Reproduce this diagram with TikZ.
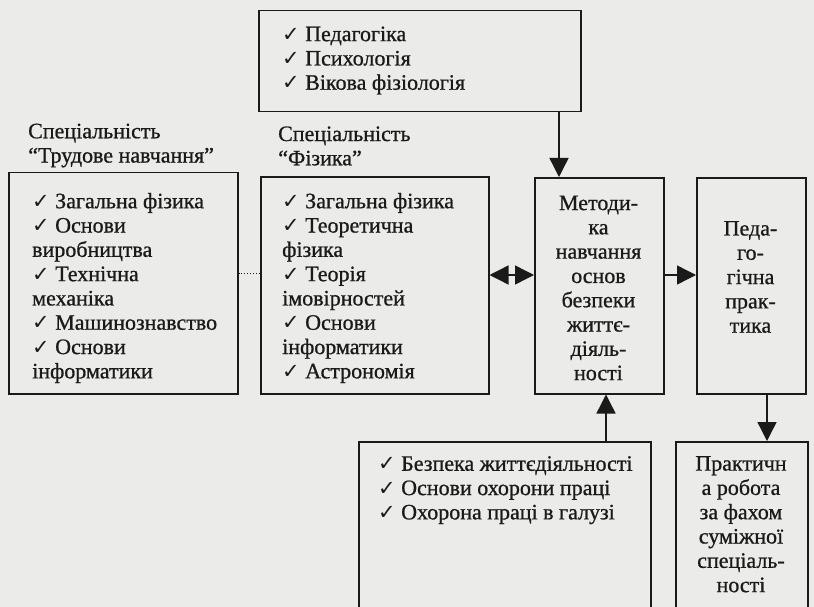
\documentclass[tikz,border=0pt]{standalone}
\usepackage{fontspec}
\setmainfont{Liberation Serif}[FakeBold=0.8]
\newfontfamily\symfont[Scale=0.95]{DejaVu Sans}
\newcommand\chk{{\symfont ✓}}
\usetikzlibrary{arrows.meta}
\definecolor{paper}{HTML}{EBEBE9}
\definecolor{ink}{HTML}{1A1A1A}
\tikzset{
  box/.style={draw=ink, line width=1.5pt, rectangle, inner sep=0pt, anchor=north west},
  txt/.style={font=\fontsize{22}{24.3}\selectfont, text=ink, inner sep=0pt},
  arr/.style={draw=ink, line width=1.4pt, -{Triangle[length=19pt,width=19pt]}},
  dblarr/.style={draw=ink, line width=1.4pt, {Triangle[length=19pt,width=19pt]}-{Triangle[length=19pt,width=19pt]}},
  dots/.style={draw=ink, line width=0.9pt, dotted},
}
\begin{document}
\begin{tikzpicture}[x=1pt,y=-1pt]
\useasboundingbox (0,0) rectangle (814,607);
\fill[paper] (0,0) rectangle (814,607);
\clip (0,0) rectangle (814,607);

% boxes
\node[box, minimum width=322pt, minimum height=101pt] (top)  at (258,10)  {};
\node[box, minimum width=229pt, minimum height=221pt] (trud) at (8,172)   {};
\node[box, minimum width=228pt, minimum height=217pt] (phys) at (260,176) {};
\node[box, minimum width=129pt, minimum height=216pt] (met)  at (534,177) {};
\node[box, minimum width=109pt, minimum height=216pt] (ped)  at (696,177) {};
\node[box, minimum width=292pt, minimum height=200pt] (bez)  at (358,441) {};
\node[box, minimum width=132pt, minimum height=200pt] (prac) at (675,441) {};

% texts
\node[txt, anchor=west, align=left] (toptxt) at (282,60.5)
  {\chk\ Педагогіка\\\chk\ Психологія\\\chk\ Вікова фізіологія};
\node[txt, anchor=west, align=left] (lab1) at (28,145.5)
  {Спеціальність\\“Трудове навчання”};
\node[txt, anchor=west, align=left] (lab2) at (278,146)
  {Спеціальність\\“Фізика”};
\node[txt, anchor=west, align=left] (trudtxt) at (32,288)
  {\chk\ Загальна фізика\\\chk\ Основи\\виробництва\\\chk\ Технічна\\механіка\\\chk\ Машинознавство\\\chk\ Основи\\інформатики};
\node[txt, anchor=west, align=left] (phystxt) at (282,288)
  {\chk\ Загальна фізика\\\chk\ Теоретична\\фізика\\\chk\ Теорія\\імовірностей\\\chk\ Основи\\інформатики\\\chk\ Астрономія};
\node[txt, align=center] (mettxt) at (598.5,288)
  {Методи-\\ка\\навчання\\основ\\безпеки\\життє-\\діяль-\\ності};
\node[txt, align=center] (pedtxt) at (750.5,277)
  {Педа-\\го-\\гічна\\прак-\\тика};
\node[txt, anchor=north west, align=left] (beztxt) at (378,456)
  {\chk\ Безпека життєдіяльності\\\chk\ Основи охорони праці\\\chk\ Охорона праці в галузі};
\node[txt, anchor=north, align=center] (practxt) at (741,456)
  {Практичн\\а робота\\за фахом\\суміжної\\спеціаль-\\ності};

% connectors
\coordinate (xa) at (559,0);
\coordinate (xb) at (606,0);
\coordinate (xc) at (767,0);
\coordinate (ya) at (0,275);
\coordinate (yb) at (0,273);
\draw[arr] (top.south -| xa) -- (met.north -| xa);
\draw[arr] (bez.north -| xb) -- (met.south -| xb);
\draw[arr] (ped.south -| xc) -- (prac.north -| xc);
\draw[arr] (met.east |- ya) -- (ped.west |- ya);
\draw[dblarr] (phys.east |- ya) -- (met.west |- ya);
\draw[dots] (trud.east |- yb) -- (phys.west |- yb);
\end{tikzpicture}
\end{document}
